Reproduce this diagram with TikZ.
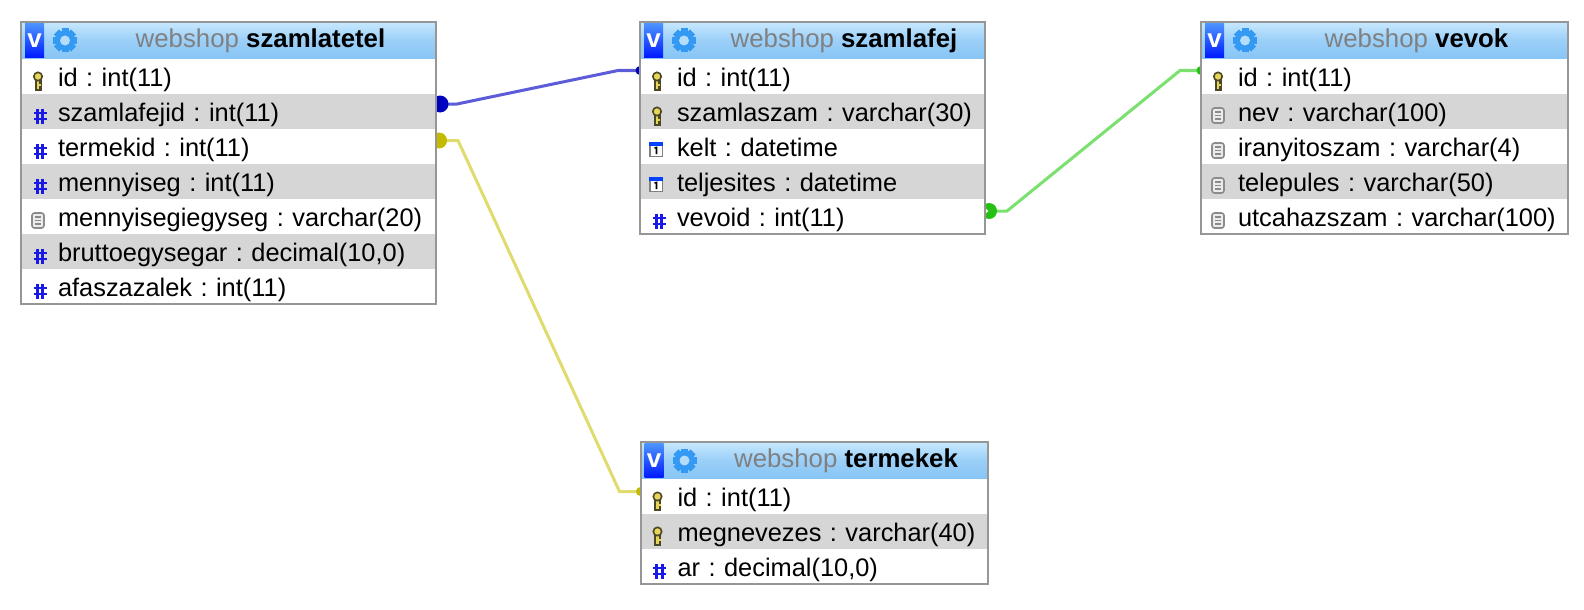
\documentclass[tikz,border=0pt]{standalone}
\usepackage{fontspec}
\setmainfont{Liberation Sans}
\usetikzlibrary{positioning}
\usetikzlibrary{backgrounds}
\definecolor{mborder}{rgb}{0.59, 0.59, 0.59}
\definecolor{mgrayrow}{rgb}{0.84, 0.84, 0.84}
\definecolor{mtitletop}{rgb}{0.78, 0.91, 1}
\definecolor{mtitlebot}{rgb}{0.53, 0.77, 0.96}
\definecolor{mgearblue}{rgb}{0.2, 0.6, 0.95}
\definecolor{mhash}{rgb}{0.1, 0.1, 0.9}
\definecolor{mkey}{rgb}{0.9, 0.84, 0.35}
\definecolor{mkeydark}{rgb}{0.3, 0.28, 0.15}
\definecolor{mbluelink}{rgb}{0.36, 0.36, 0.85}
\definecolor{mbluedot}{rgb}{0, 0, 0.75}
\definecolor{mgreenlink}{rgb}{0.48, 0.88, 0.43}
\definecolor{mgreendot}{rgb}{0.15, 0.75, 0.08}
\definecolor{myellowlink}{rgb}{0.88, 0.86, 0.43}
\definecolor{myellowdot}{rgb}{0.77, 0.73, 0}
\tikzset{
  rowbox/.style = {anchor = north, minimum height = 35, inner xsep = 0, inner ysep = 0, outer sep = 0,
    text height = 24, text depth = 5, font = \fontsize{25.4}{28}\selectfont\frenchspacing, align = left,
    execute at begin node = {\hspace*{37pt}}},
  rowplain/.style = {rowbox, fill = white},
  rowgray/.style = {rowbox, fill = mgrayrow},
  titlebar/.style = {anchor = north west, minimum height = 37, inner sep = 0, outer sep = 0,
    top color = mtitletop, bottom color = mtitlebot, middle color = mtitlebot!70!mtitletop},
  titletext/.style = {inner sep = 0, text = black!50, font = \fontsize{25.8}{28}\selectfont},
  vbutton/.style = {anchor = west, minimum width = 19, minimum height = 34, inner sep = 0,
    top color = blue!60!cyan!70!white, bottom color = blue!90!cyan, text = white,
    font = \fontsize{26}{26}\selectfont\bfseries},
  tableborder/.style = {mborder, line width = 2},
  bluelink/.style = {mbluelink, line width = 3},
  greenlink/.style = {mgreenlink, line width = 3},
  yellowlink/.style = {myellowlink, line width = 3},
  keyicon/.pic = {
    \fill [mkeydark] (-3.5, -3) rectangle (3.5, 10);
    \fill [mkey] (-1.4, -3) rectangle (1.4, 8);
    \fill [mkey] (1, 3) rectangle (3, 5);
    \filldraw [fill = mkey, draw = mkeydark, line width = 1.6] (0, -4) circle (4.2pt);
  },
  hashicon/.pic = {
    \draw [mhash, line width = 2.8] (-2.8, -7.5) -- (-2.8, 7.5);
    \draw [mhash, line width = 2.8] (2.8, -7.5) -- (2.8, 7.5);
    \draw [mhash, line width = 2.8] (-6.5, -3) -- (6.5, -3);
    \draw [mhash, line width = 2.8] (-6.5, 3) -- (6.5, 3);
  },
  docicon/.pic = {
    \filldraw [fill = black!8, draw = black!45, line width = 1.6, rounded corners = 2.5] (-6, -7.5) rectangle (6, 7.5);
    \draw [black!45, line width = 1.2] (-3, -3.5) -- (3, -3.5);
    \draw [black!45, line width = 1.2] (-3, 0) -- (3, 0);
    \draw [black!45, line width = 1.2] (-3, 3.5) -- (3, 3.5);
  },
  calicon/.pic = {
    \fill [black!50] (-7, -7) rectangle (7, 8);
    \fill [white] (-5.5, -3) rectangle (5.5, 6.5);
    \fill [blue!75!cyan] (-7, -7) rectangle (7, -3.5);
    \draw [black, line width = 1.6] (-1.5, -1) -- (0.5, -1.5) -- (0.5, 5);
  },
  gearicon/.pic = {
    \foreach \a in {0, 45, ..., 315} {
      \fill [mgearblue, rotate = \a] (-3.5, -12) rectangle (3.5, 12);
    }
    \fill [mgearblue] (0, 0) circle (10pt);
    \fill [mtitletop!70!mtitlebot] (0, 0) circle (5pt);
  }
}

\begin{document}
\begin{tikzpicture}[x = 1pt, y = -1pt]
  \useasboundingbox (0, 0) rectangle (1584, 610);

  \node [titlebar, minimum width = 415] (tetel-title) at (21, 22) {};
  \node [titletext] (tetel-name) at (260.5, 41) {webshop \textcolor{black}{\bfseries szamlatetel}};
  \begin{scope}[every node/.append style = {text width = 415}]
    \node [rowplain, below = 0 of tetel-title] (tetel-id) {id : int(11)};
    \node [rowgray, below = 0 of tetel-id] (tetel-fejid) {szamlafejid : int(11)};
    \node [rowplain, below = 0 of tetel-fejid] (tetel-termekid) {termekid : int(11)};
    \node [rowgray, below = 0 of tetel-termekid] (tetel-menny) {mennyiseg : int(11)};
    \node [rowplain, below = 0 of tetel-menny] (tetel-egyseg) {mennyisegiegyseg : varchar(20)};
    \node [rowgray, below = 0 of tetel-egyseg] (tetel-brutto) {bruttoegysegar : decimal(10,0)};
    \node [rowplain, below = 0 of tetel-brutto] (tetel-afa) {afaszazalek : int(11)};
  \end{scope}
  \draw [tableborder] (tetel-title.north west) rectangle (tetel-afa.south east);

  \node [titlebar, minimum width = 345] (fej-title) at (640, 22) {};
  \node [titletext] (fej-name) at (844, 41) {webshop \textcolor{black}{\bfseries szamlafej}};
  \begin{scope}[every node/.append style = {text width = 345}]
    \node [rowplain, below = 0 of fej-title] (fej-id) {id : int(11)};
    \node [rowgray, below = 0 of fej-id] (fej-szam) {szamlaszam : varchar(30)};
    \node [rowplain, below = 0 of fej-szam] (fej-kelt) {kelt : datetime};
    \node [rowgray, below = 0 of fej-kelt] (fej-telj) {teljesites : datetime};
    \node [rowplain, below = 0 of fej-telj] (fej-vevoid) {vevoid : int(11)};
  \end{scope}
  \draw [tableborder] (fej-title.north west) rectangle (fej-vevoid.south east);

  \node [titlebar, minimum width = 367] (vevok-title) at (1201, 22) {};
  \node [titletext] (vevok-name) at (1416.5, 41) {webshop \textcolor{black}{\bfseries vevok}};
  \begin{scope}[every node/.append style = {text width = 367}]
    \node [rowplain, below = 0 of vevok-title] (vevok-id) {id : int(11)};
    \node [rowgray, below = 0 of vevok-id] (vevok-nev) {nev : varchar(100)};
    \node [rowplain, below = 0 of vevok-nev] (vevok-irsz) {iranyitoszam : varchar(4)};
    \node [rowgray, below = 0 of vevok-irsz] (vevok-telep) {telepules : varchar(50)};
    \node [rowplain, below = 0 of vevok-telep] (vevok-utca) {utcahazszam : varchar(100)};
  \end{scope}
  \draw [tableborder] (vevok-title.north west) rectangle (vevok-utca.south east);

  \node [titlebar, minimum width = 347] (termek-title) at (640.5, 442) {};
  \node [titletext] (termek-name) at (846, 461) {webshop \textcolor{black}{\bfseries termekek}};
  \begin{scope}[every node/.append style = {text width = 347}]
    \node [rowplain, below = 0 of termek-title] (termek-id) {id : int(11)};
    \node [rowgray, below = 0 of termek-id] (termek-nev) {megnevezes : varchar(40)};
    \node [rowplain, below = 0 of termek-nev] (termek-ar) {ar : decimal(10,0)};
  \end{scope}
  \draw [tableborder] (termek-title.north west) rectangle (termek-ar.south east);

  \foreach \t in {tetel, fej, vevok, termek} {
    \node [vbutton] (\t-v) at ([xshift = 4]\t-title.west) {v};
    \pic at ([xshift = 44]\t-title.west) {gearicon};
  }
  \foreach \r in {tetel-id, fej-id, fej-szam, vevok-id, termek-id, termek-nev} {
    \pic at ([xshift = 17, yshift = -4]\r.west) {keyicon};
  }
  \foreach \r in {tetel-fejid, tetel-termekid, tetel-menny, tetel-brutto, tetel-afa, fej-vevoid, termek-ar} {
    \pic at ([xshift = 19, yshift = -4.5]\r.west) {hashicon};
  }
  \foreach \r in {tetel-egyseg, vevok-nev, vevok-irsz, vevok-telep, vevok-utca} {
    \pic at ([xshift = 17, yshift = -4]\r.west) {docicon};
  }
  \foreach \r in {fej-kelt, fej-telj} {
    \pic at ([xshift = 16, yshift = -2.5]\r.west) {calicon};
  }

  \coordinate (bluestart) at ([yshift = 7.5]tetel-fejid.east);
  \coordinate (blueend) at ([yshift = 6]fej-id.west);
  \coordinate (yellowstart) at ([yshift = 6]tetel-termekid.east);
  \coordinate (yellowend) at ([yshift = 5]termek-id.west);
  \coordinate (greenstart) at ([yshift = 5.5]fej-vevoid.east);
  \coordinate (greenend) at ([yshift = 6]vevok-id.west);

  \begin{pgfonlayer}{background}
    \draw [bluelink] (bluestart) -- ++(21, 0) -- ([xshift = -22]blueend) -- (blueend);
    \draw [yellowlink] (yellowstart) -- ++(22, 0) -- ([xshift = -21]yellowend) -- (yellowend);
    \draw [greenlink] (greenstart) -- ++(22, 0) -- ([xshift = -21]greenend) -- (greenend);
    \fill [mbluedot] ([xshift = 4]bluestart) circle (8.5pt);
    \fill [myellowdot] ([xshift = 3]yellowstart) circle (8pt);
    \fill [mgreendot] ([xshift = 4]greenstart) circle (8pt);
    \fill [white] ([xshift = 1.5]greenstart) circle (1.8pt);
    \fill [mbluedot] (blueend) circle (4.5pt);
    \fill [myellowdot] (yellowend) circle (4.5pt);
    \fill [mgreendot] (greenend) circle (4.5pt);
  \end{pgfonlayer}
\end{tikzpicture}
\end{document}
